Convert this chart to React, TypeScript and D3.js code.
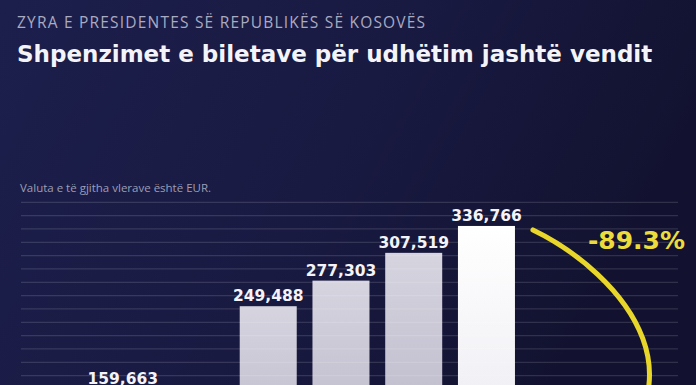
import React from "react";
import * as d3 from "d3";

const W = 696;
const H = 385;

// Data (years are not visible in the crop; values of hidden bars are estimates)
const categories = ["2013", "2014", "2015", "2016", "2017", "2018", "2019", "2020"];
const values = [145000, 159663, 120000, 249488, 277303, 307519, 336766, 36034];
const changeLabel = "-89.3%";
const gridStep = 14500;
const gridMax = 362500;

const supTitle = "ZYRA E PRESIDENTES SË REPUBLIKËS SË KOSOVËS";
const title = "Shpenzimet e biletave për udhëtim jashtë vendit";
const note = "Valuta e të gjitha vlerave është EUR.";

const fmt = d3.format(",");

export default function App() {
  const x = d3
    .scaleBand<string>()
    .domain(categories)
    .range([21.5, 587.7])
    .paddingInner(0.2164)
    .paddingOuter(0);
  const y = d3.scaleLinear().domain([0, gridMax]).range([535.6, 202.3]);
  const gridValues = d3.range(gridStep, gridMax + 1, gridStep);
  const bw = x.bandwidth();

  const maxIdx = values.indexOf(d3.max(values) as number);
  const nextIdx = maxIdx + 1;
  const p0x = (x(categories[maxIdx]) as number) + bw + 18;
  const p0y = y(values[maxIdx]) + 4;
  const p3x = (x(categories[nextIdx]) as number) + bw / 2 + 6;
  const p3y = y(values[nextIdx]) - 12;
  const arcPath = `M${p0x},${p0y} C${p0x + 87},${p0y + 42} ${p0x + 195},${p3y - 100} ${p3x},${p3y}`;

  const font = "'DejaVu Sans', 'Open Sans', sans-serif";

  return (
    <svg
      width={W}
      height={H}
      style={{ position: "absolute", left: 0, top: 0, display: "block" }}
    >
      <defs>
        <linearGradient id="bg" x1="0" y1="0" x2="1" y2="0.3">
          <stop offset="0" stopColor="#1c1f4c" />
          <stop offset="0.55" stopColor="#191a42" />
          <stop offset="1" stopColor="#121230" />
        </linearGradient>
        <linearGradient id="barGrey" x1="0" y1="0" x2="0" y2="1">
          <stop offset="0" stopColor="#d6d4df" />
          <stop offset="1" stopColor="#aeabbf" />
        </linearGradient>
        <linearGradient id="barWhite" x1="0" y1="0" x2="0" y2="1">
          <stop offset="0" stopColor="#ffffff" />
          <stop offset="1" stopColor="#e4e3ec" />
        </linearGradient>
      </defs>
      <rect x={0} y={0} width={W} height={H} fill="url(#bg)" />

      <text
        x={17}
        y={28}
        fill="#a9abc2"
        fontFamily="'Open Sans', sans-serif"
        fontSize={15.5}
        fontWeight={400}
        letterSpacing={1.2}
      >
        {supTitle}
      </text>
      <text x={17} y={62} fill="#f4f4f8" fontFamily={font} fontSize={23} fontWeight={700}>
        {title}
      </text>
      <text x={20} y={192} fill="#9c9eb6" fontFamily="'Open Sans', sans-serif" fontSize={11.5}>
        {note}
      </text>

      {categories.map((c, i) => (
        <rect
          key={c}
          x={x(c)}
          y={y(values[i])}
          width={bw}
          height={Math.max(0, y(0) - y(values[i]))}
          fill={i === maxIdx ? "url(#barWhite)" : "url(#barGrey)"}
        />
      ))}

      {gridValues.map((v) => (
        <line
          key={v}
          x1={21}
          x2={678}
          y1={y(v)}
          y2={y(v)}
          stroke="#ffffff"
          strokeOpacity={0.13}
          strokeWidth={1.3}
        />
      ))}

      {categories.map((c, i) => (
        <text
          key={c}
          x={(x(c) as number) + bw / 2}
          y={y(values[i]) - 5}
          textAnchor="middle"
          fill="#f4f4f8"
          fontFamily={font}
          fontSize={15.5}
          fontWeight={700}
        >
          {fmt(values[i])}
        </text>
      ))}

      <path d={arcPath} fill="none" stroke="#e8d62a" strokeWidth={5} strokeLinecap="round" />
      <text
        x={685}
        y={249}
        textAnchor="end"
        fill="#ebdc3c"
        fontFamily={font}
        fontSize={25}
        fontWeight={700}
      >
        {changeLabel}
      </text>
    </svg>
  );
}
